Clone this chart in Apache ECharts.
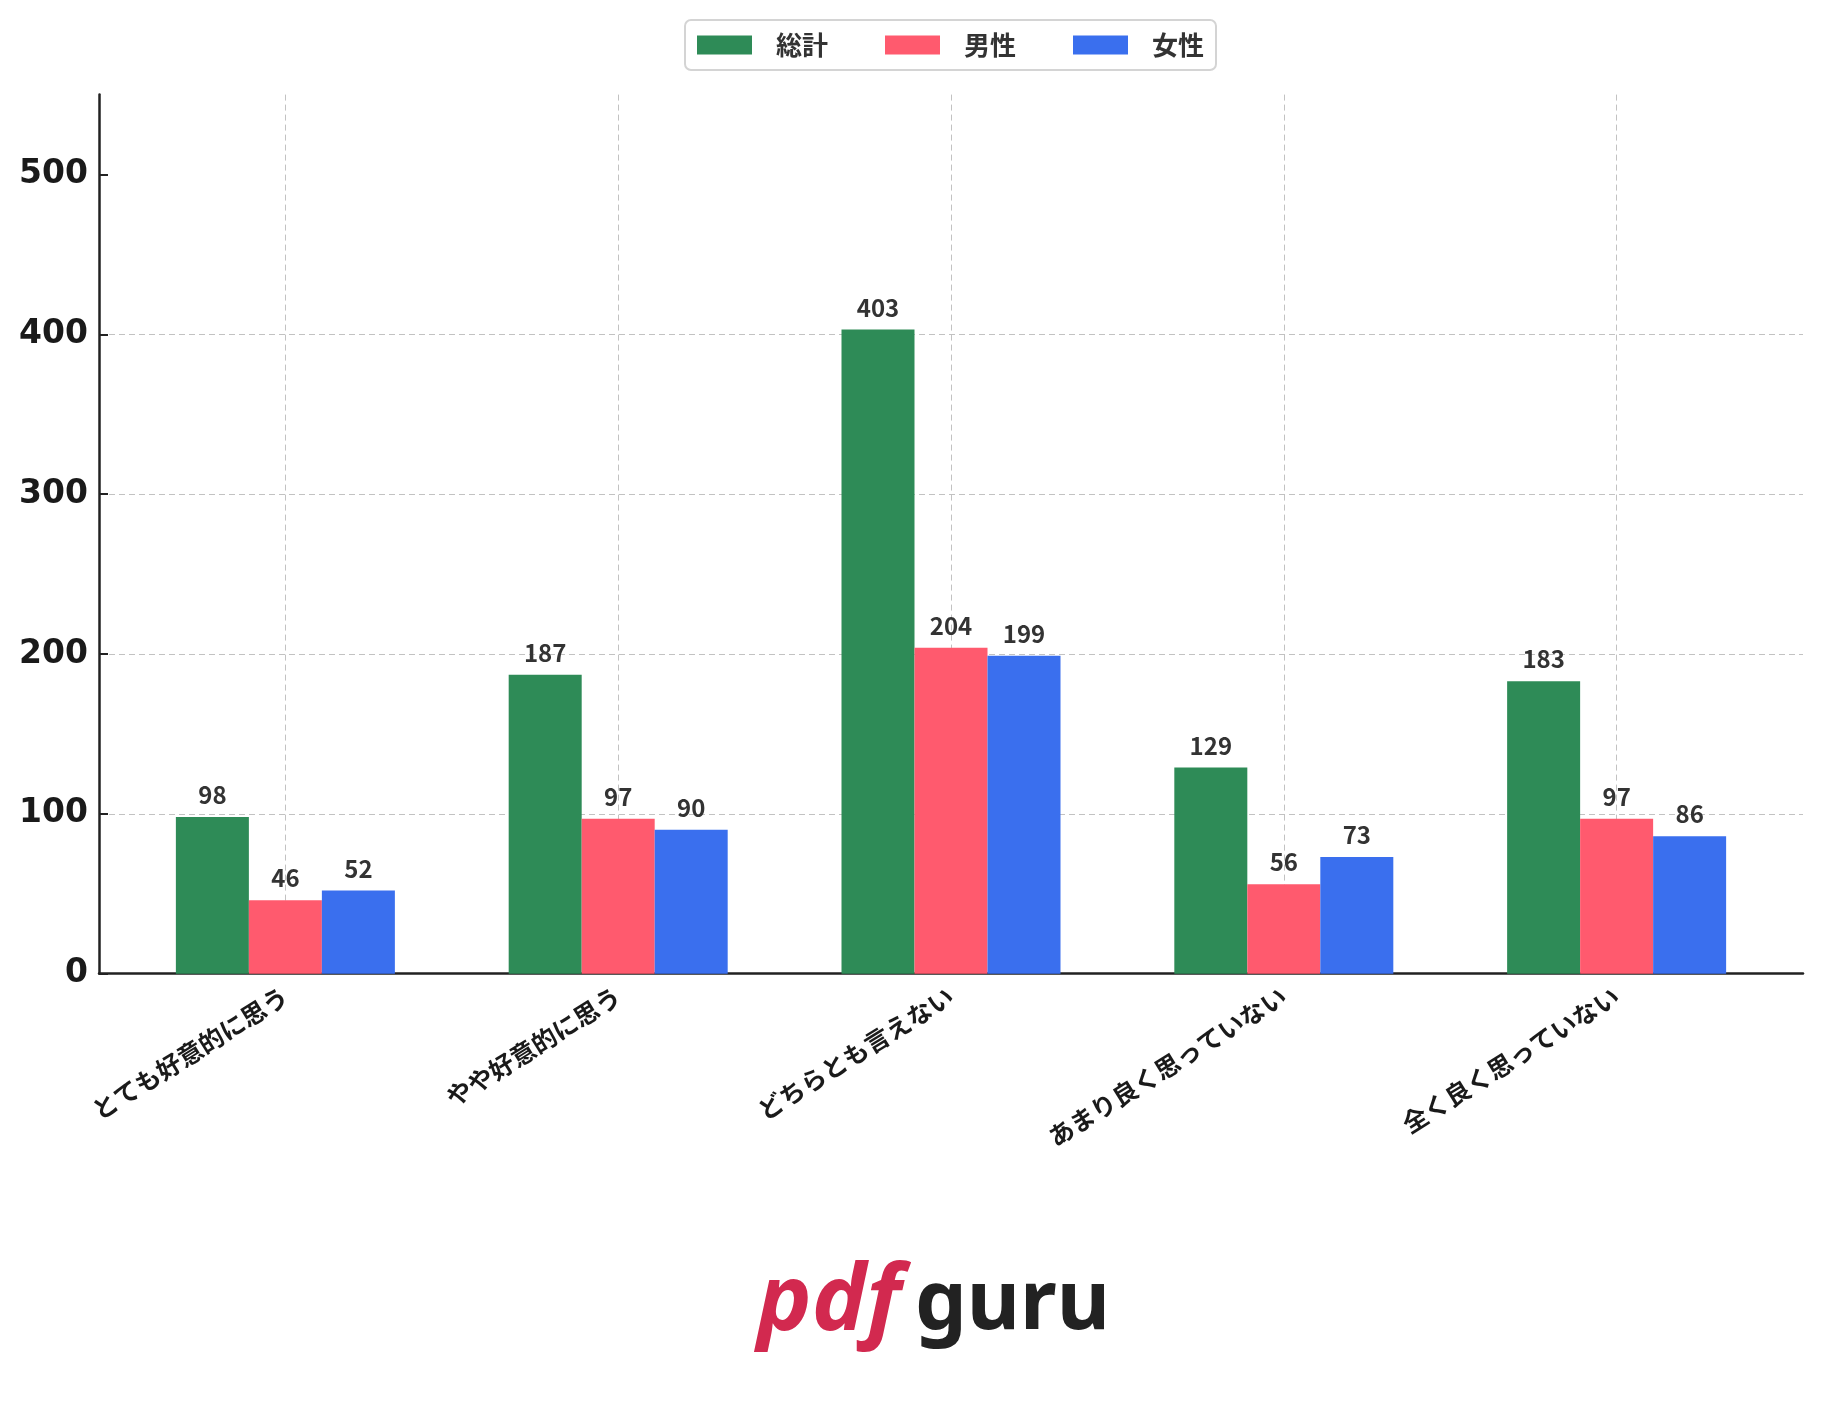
<!DOCTYPE html>
<html>
<head>
<meta charset="utf-8">
<script src="https://cdn.jsdelivr.net/npm/echarts@6/dist/echarts.min.js"></script>
<style>
  html, body { margin: 0; padding: 0; background: #fff; }
  #main { width: 1824px; height: 1426px; }
</style>
</head>
<body>
<div id="main"></div>
<script>
// 回答カテゴリ
var categories = ['とても好意的に思う', 'やや好意的に思う', 'どちらとも言えない', 'あまり良く思っていない', '全く良く思っていない'];
var seriesNames = ['総計', '男性', '女性'];
var totalValues = [98, 187, 403, 129, 183];
var maleValues = [46, 97, 204, 56, 97];
var femaleValues = [52, 90, 199, 73, 86];
var yTicks = [0, 100, 200, 300, 400, 500];

var colors = ['#2E8B57', '#FF5A6E', '#3A6FEE'];
var jp = '"Noto Sans CJK JP", "Noto Sans", sans-serif';

var myChart = echarts.init(document.getElementById('main'));

function toPoints(arr) {
    return arr.map(function (v, i) { return [i, v]; });
}

function makeSeries(name, values, color) {
    return {
        name: name,
        type: 'bar',
        data: toPoints(values),
        barWidth: 73,
        barGap: '0%',
        itemStyle: { color: color },
        label: {
            show: true,
            position: 'top',
            distance: 10,
            color: '#333',
            fontFamily: jp,
            fontWeight: 'bold',
            fontSize: 24,
            formatter: function (p) { return p.value[1]; }
        }
    };
}

var gridLine = { color: '#c2c2c2', width: 1, type: [6, 4] };

myChart.setOption({
    animation: false,
    backgroundColor: '#fff',
    color: colors,
    legend: {
        data: seriesNames,
        left: 685,
        top: 20,
        icon: 'rect',
        itemWidth: 55,
        itemHeight: 19,
        itemGap: 57,
        padding: [12, 12],
        borderColor: '#d4d4d4',
        borderWidth: 2,
        borderRadius: 6,
        textStyle: {
            fontFamily: jp,
            fontSize: 26,
            fontWeight: 'bold',
            color: '#333',
            padding: [0, 0, 0, 19]
        }
    },
    grid: { left: 99, right: 21, top: 94.6, bottom: 452.3 },
    xAxis: {
        type: 'value',
        min: -0.56,
        max: 4.56,
        axisLine: { show: true, onZero: false, lineStyle: { color: '#222', width: 2.5 } },
        axisTick: { show: false },
        axisLabel: {
            showMinLabel: false,
            showMaxLabel: false,
            rotate: 32,
            margin: 20,
            fontFamily: jp,
            fontSize: 25,
            fontWeight: 'bold',
            color: '#1a1a1a',
            formatter: function (v) {
                return Number.isInteger(v) ? categories[v] : '';
            }
        },
        splitLine: { show: true, showMinLine: false, showMaxLine: false, lineStyle: gridLine }
    },
    yAxis: {
        type: 'value',
        min: 0,
        max: 550,
        interval: 100,
        axisLine: { show: true, onZero: false, lineStyle: { color: '#222', width: 2.5 } },
        axisTick: { show: true, inside: true, length: 9, customValues: yTicks, lineStyle: { color: '#222', width: 2 } },
        axisLabel: {
            customValues: yTicks,
            margin: 11,
            fontFamily: '"DejaVu Sans", sans-serif',
            fontWeight: 'bold',
            fontSize: 33,
            color: '#1a1a1a'
        },
        splitLine: { show: true, showMaxLine: false, showMinLine: false, lineStyle: gridLine }
    },
    graphic: [
        {
            type: 'text',
            style: {
                x: 757, y: 1304,
                text: 'pdf',
                font: 'italic bold 92px "Noto Sans"',
                fill: '#D2294F',
                textVerticalAlign: 'middle'
            }
        },
        {
            type: 'text',
            style: {
                x: 915, y: 1306,
                text: 'guru',
                font: 'bold 82px "Noto Sans"',
                fill: '#222',
                textVerticalAlign: 'middle'
            }
        }
    ],
    series: [
        makeSeries(seriesNames[0], totalValues, colors[0]),
        makeSeries(seriesNames[1], maleValues, colors[1]),
        makeSeries(seriesNames[2], femaleValues, colors[2])
    ]
});
</script>
</body>
</html>
